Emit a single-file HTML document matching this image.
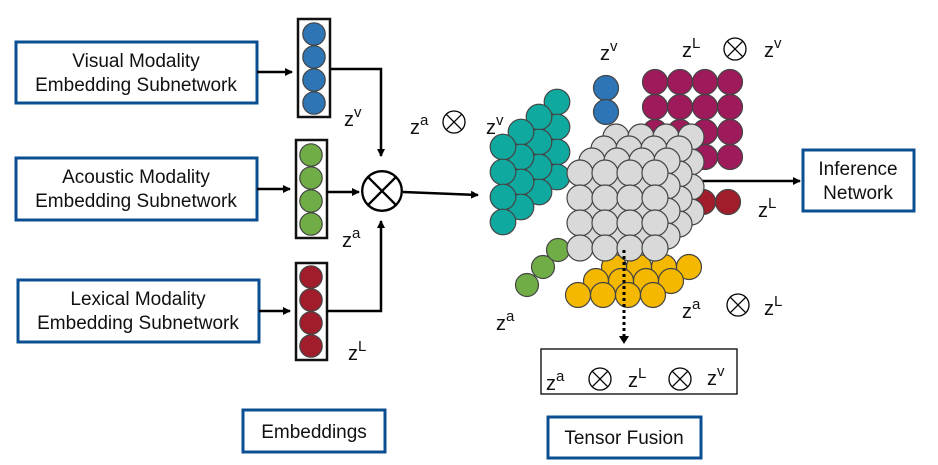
<!DOCTYPE html>
<html><head><meta charset="utf-8"><style>
html,body{margin:0;padding:0;background:#fff;width:938px;height:465px;overflow:hidden}
svg text{font-family:"Liberation Sans",sans-serif;fill:#111}
</style></head><body>
<svg id="s" width="938" height="465" viewBox="0 0 938 465" xmlns="http://www.w3.org/2000/svg">
<defs>
<marker id="ah" markerWidth="8" markerHeight="8" refX="7" refY="4" orient="auto" markerUnits="userSpaceOnUse"><path d="M0,0 L8,4 L0,8 z" fill="#000"/></marker>
<g id="ox"><circle r="11" fill="#fff" stroke="#000" stroke-width="1.3"/><path d="M-7.8,-7.8L7.8,7.8M7.8,-7.8L-7.8,7.8" stroke="#000" stroke-width="1.3"/></g>
</defs>
<g fill="#fff" stroke="#0b4f92" stroke-width="3">
<rect x="16" y="42" width="241" height="61"/>
<rect x="16" y="158" width="241" height="62"/>
<rect x="18" y="280" width="241" height="62"/>
<rect x="803" y="150" width="111" height="61"/>
<rect x="243" y="410" width="142" height="42"/>
<rect x="548" y="417" width="153" height="41"/>
</g>
<g font-size="19" text-anchor="middle">
<text x="136" y="67">Visual Modality</text><text x="136" y="91">Embedding Subnetwork</text>
<text x="136" y="183">Acoustic Modality</text><text x="136" y="207">Embedding Subnetwork</text>
<text x="138" y="305">Lexical Modality</text><text x="138" y="329">Embedding Subnetwork</text>
<text x="858" y="175">Inference</text><text x="858" y="199">Network</text>
<text x="314" y="438">Embeddings</text>
<text x="624" y="444">Tensor Fusion</text>
</g>
<g fill="#fff" stroke="#111" stroke-width="2.5">
<rect x="298" y="19" width="32" height="98"/>
<rect x="296" y="140" width="31" height="98"/>
<rect x="296" y="263" width="31" height="97"/>
</g>
<g id="emb" stroke="#444" stroke-width="1.2"></g>
<g stroke="#000" stroke-width="2.5" fill="none">
<path d="M257,72 L292,72" marker-end="url(#ah)"/>
<path d="M257,189 L290,189" marker-end="url(#ah)"/>
<path d="M259,311 L290,311" marker-end="url(#ah)"/>
<path d="M330,69 L381,69 L381,156" marker-end="url(#ah)"/>
<path d="M327,192 L359,192" marker-end="url(#ah)"/>
<path d="M327,311 L381,311 L381,221" marker-end="url(#ah)"/>
<path d="M403,192 L478,195" marker-end="url(#ah)"/>
<path d="M684,181 L800,181" marker-end="url(#ah)"/>
</g>
<g transform="translate(382,191) scale(1.8)"><use href="#ox"/></g>
<g id="tensor" stroke="#444" stroke-width="1.2"></g>
<path d="M624,250 L624,336" stroke="#000" stroke-width="3" stroke-dasharray="3,3" fill="none"/>
<path d="M619,336 L629,336 L624,344 z" fill="#000"/>
<rect x="541" y="349" width="196" height="45" fill="none" stroke="#000" stroke-width="1.3"/>
<g font-size="20">
<text x="344" y="126">z<tspan font-size="15" dy="-9">v</tspan></text>
<text x="342" y="247">z<tspan font-size="15" dy="-9">a</tspan></text>
<text x="348" y="360">z<tspan font-size="15" dy="-9">L</tspan></text>
<text x="410" y="134">z<tspan font-size="15" dy="-9">a</tspan></text>
<text x="486" y="134">z<tspan font-size="15" dy="-9">v</tspan></text>
<text x="600" y="60">z<tspan font-size="15" dy="-9">v</tspan></text>
<text x="682" y="57">z<tspan font-size="15" dy="-9">L</tspan></text>
<text x="764" y="57">z<tspan font-size="15" dy="-9">v</tspan></text>
<text x="758" y="217">z<tspan font-size="15" dy="-9">L</tspan></text>
<text x="682" y="318">z<tspan font-size="15" dy="-9">a</tspan></text>
<text x="764" y="315">z<tspan font-size="15" dy="-9">L</tspan></text>
<text x="496" y="330">z<tspan font-size="15" dy="-9">a</tspan></text>
<text x="546" y="390">z<tspan font-size="15" dy="-9">a</tspan></text>
<text x="628" y="387">z<tspan font-size="15" dy="-9">L</tspan></text>
<text x="707" y="385">z<tspan font-size="15" dy="-9">v</tspan></text>
</g>
<use href="#ox" x="454" y="122"/>
<use href="#ox" x="735" y="49"/>
<use href="#ox" x="738" y="305"/>
<use href="#ox" x="600" y="379"/>
<use href="#ox" x="680" y="379"/>
</svg>
<script>
var NS="http://www.w3.org/2000/svg";
function c(g,x,y,r,f){var e=document.createElementNS(NS,"circle");e.setAttribute("cx",x);e.setAttribute("cy",y);e.setAttribute("r",r);e.setAttribute("fill",f);document.getElementById(g).appendChild(e);}
[34,57,80,103].forEach(function(y){c("emb",314,y,11.2,"#2e75b6")});
[155,178,201,224].forEach(function(y){c("emb",311,y,11.2,"#70ad47")});
[277,300,323,346].forEach(function(y){c("emb",311,y,11.2,"#a11d2b")});
var T="tensor";
for(var i=0;i<4;i++)for(var j=0;j<4;j++)c(T,655+i*25,82+j*25,12.5,"#9e1a5a");
c(T,703,202,12.5,"#a11d2b");c(T,728,202,12.5,"#a11d2b");
c(T,606,88,12.5,"#2e75b6");c(T,606,112,12.5,"#2e75b6");
for(var i=3;i>=0;i--)for(var j=0;j<4;j++)c(T,503+i*18,147-i*15+j*25,12.8,"#10a9a0");
c(T,527,285,11.5,"#70ad47");c(T,543,267,11.5,"#70ad47");c(T,558,250,11.5,"#70ad47");
for(var k=2;k>=0;k--)for(var i=0;i<4;i++)c(T,578+k*18+i*25,295-k*14,12.5,"#f5b800");
for(var k=3;k>=0;k--)for(var i=0;i<4;i++)for(var j=0;j<4;j++)c(T,580+k*12+i*25,173-k*12+j*25,13,"#d9d9d9");
</script>
</body></html>
